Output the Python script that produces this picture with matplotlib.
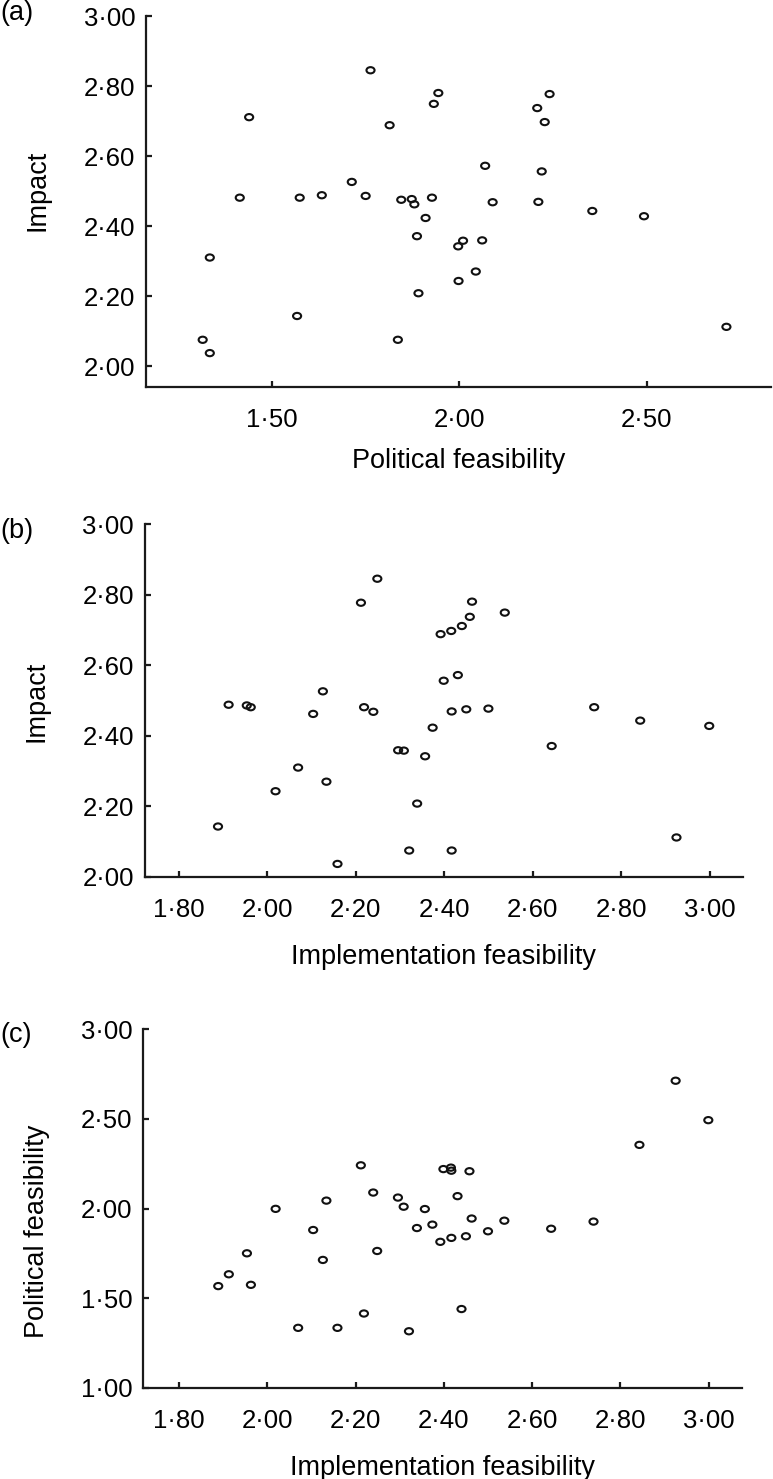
import matplotlib
matplotlib.use('Agg')
import matplotlib.pyplot as plt
import numpy as np
from matplotlib.path import Path
from matplotlib.transforms import Affine2D
from matplotlib.ticker import FuncFormatter

plt.rcParams['font.family'] = ['Liberation Sans', 'DejaVu Sans']

# one entry per policy option: mean scores
political = [1.763, 1.944, 1.932, 2.241, 2.208, 2.228, 1.439, 1.814, 2.069, 2.220,
             1.713, 1.414, 1.574, 1.633, 1.750, 1.845, 1.873, 1.880, 1.927, 2.089,
             2.211, 2.355, 2.493, 1.910, 1.887, 2.010, 1.997, 2.061, 1.334, 2.044,
             1.998, 1.891, 1.567, 2.713, 1.315, 1.836, 1.334]
implementation = [2.249, 2.463, 2.537, 2.212, 2.458, 2.416, 2.440, 2.392, 2.431, 2.399,
                  2.126, 2.219, 1.963, 1.913, 1.954, 2.450, 2.500, 2.104, 2.739, 2.240,
                  2.417, 2.843, 2.999, 2.374, 2.643, 2.309, 2.357, 2.296, 2.070, 2.134,
                  2.019, 2.339, 1.889, 2.925, 2.321, 2.417, 2.159]
impact = [2.845, 2.780, 2.749, 2.777, 2.737, 2.697, 2.711, 2.688, 2.572, 2.556,
          2.526, 2.481, 2.481, 2.488, 2.486, 2.475, 2.477, 2.462, 2.481, 2.468,
          2.469, 2.443, 2.428, 2.423, 2.371, 2.358, 2.342, 2.359, 2.310, 2.270,
          2.243, 2.208, 2.143, 2.112, 2.075, 2.075, 2.037]

panels = ['(a)', '(b)', '(c)']
xlabels = ['Political feasibility', 'Implementation feasibility', 'Implementation feasibility']
ylabels = ['Impact', 'Impact', 'Political feasibility']
xticks = [[1.5, 2.0, 2.5], np.arange(1.8, 3.01, 0.2), np.arange(1.8, 3.01, 0.2)]
yticks = [np.arange(2.0, 3.01, 0.2), np.arange(2.0, 3.01, 0.2), np.arange(1.0, 3.01, 0.5)]

W, H = 773, 1479
fig = plt.figure(figsize=(W / 100, H / 100), dpi=100)

def rect(l, r, t, b):
    return [l / W, 1 - b / H, (r - l) / W, (b - t) / H]

# pixel boxes of the three axes, limits and label placement
boxes = [(146, 771, 16, 386.7), (144.5, 743, 524, 877), (143, 742, 1029.3, 1387.7)]
xlims = [(1.1637, 2.832), (1.7229, 3.0753), (1.7186, 3.0753)]
ylims = [(1.941, 3.0), (2.0, 3.0), (1.0, 3.0)]
ylab_center = [190, 701.6, 1231.7]
letter_top = [0, 518, 1022]
xlabpad = [11.5, 16, 16]

data = [(political, impact), (implementation, impact), (implementation, political)]

ellipse = Path.unit_circle().transformed(Affine2D().scale(1, 0.77))
fmt = FuncFormatter(lambda v, p: '{:.2f}'.format(v).replace('.', '\u00b7'))

for i in range(3):
    l, r, t, b = boxes[i]
    ax = fig.add_axes(rect(l, r, t, b))
    x, y = data[i]
    ax.scatter(x, y, marker=ellipse, s=34, facecolors='none', edgecolors='#111111',
               linewidths=1.5, clip_on=False, zorder=3)
    ax.set_xlim(*xlims[i])
    ax.set_ylim(*ylims[i])
    ax.set_xticks(xticks[i])
    ax.set_yticks(yticks[i])
    ax.xaxis.set_major_formatter(fmt)
    ax.yaxis.set_major_formatter(fmt)
    for s in ['top', 'right']:
        ax.spines[s].set_visible(False)
    for s in ['left', 'bottom']:
        ax.spines[s].set_linewidth(1.6)
        ax.spines[s].set_color('#1a1a1a')
    ax.tick_params(axis='both', direction='in', length=4.5, width=1.6, color='#1a1a1a',
                   labelsize=18.5)
    ax.tick_params(axis='x', pad=15)
    ax.tick_params(axis='y', pad=7.5)
    ax.set_xlabel(xlabels[i], fontsize=19.5, labelpad=xlabpad[i])
    ax.set_ylabel(ylabels[i], fontsize=19.5)
    # y label anchor is the right edge of the rotated text
    ax.yaxis.set_label_coords((50 - l) / (r - l), (b - ylab_center[i]) / (b - t))
    fig.text(0.0, 1 - letter_top[i] / H, panels[i], fontsize=19.5, ha='left', va='top')

fig.savefig('out.png', dpi=100)
